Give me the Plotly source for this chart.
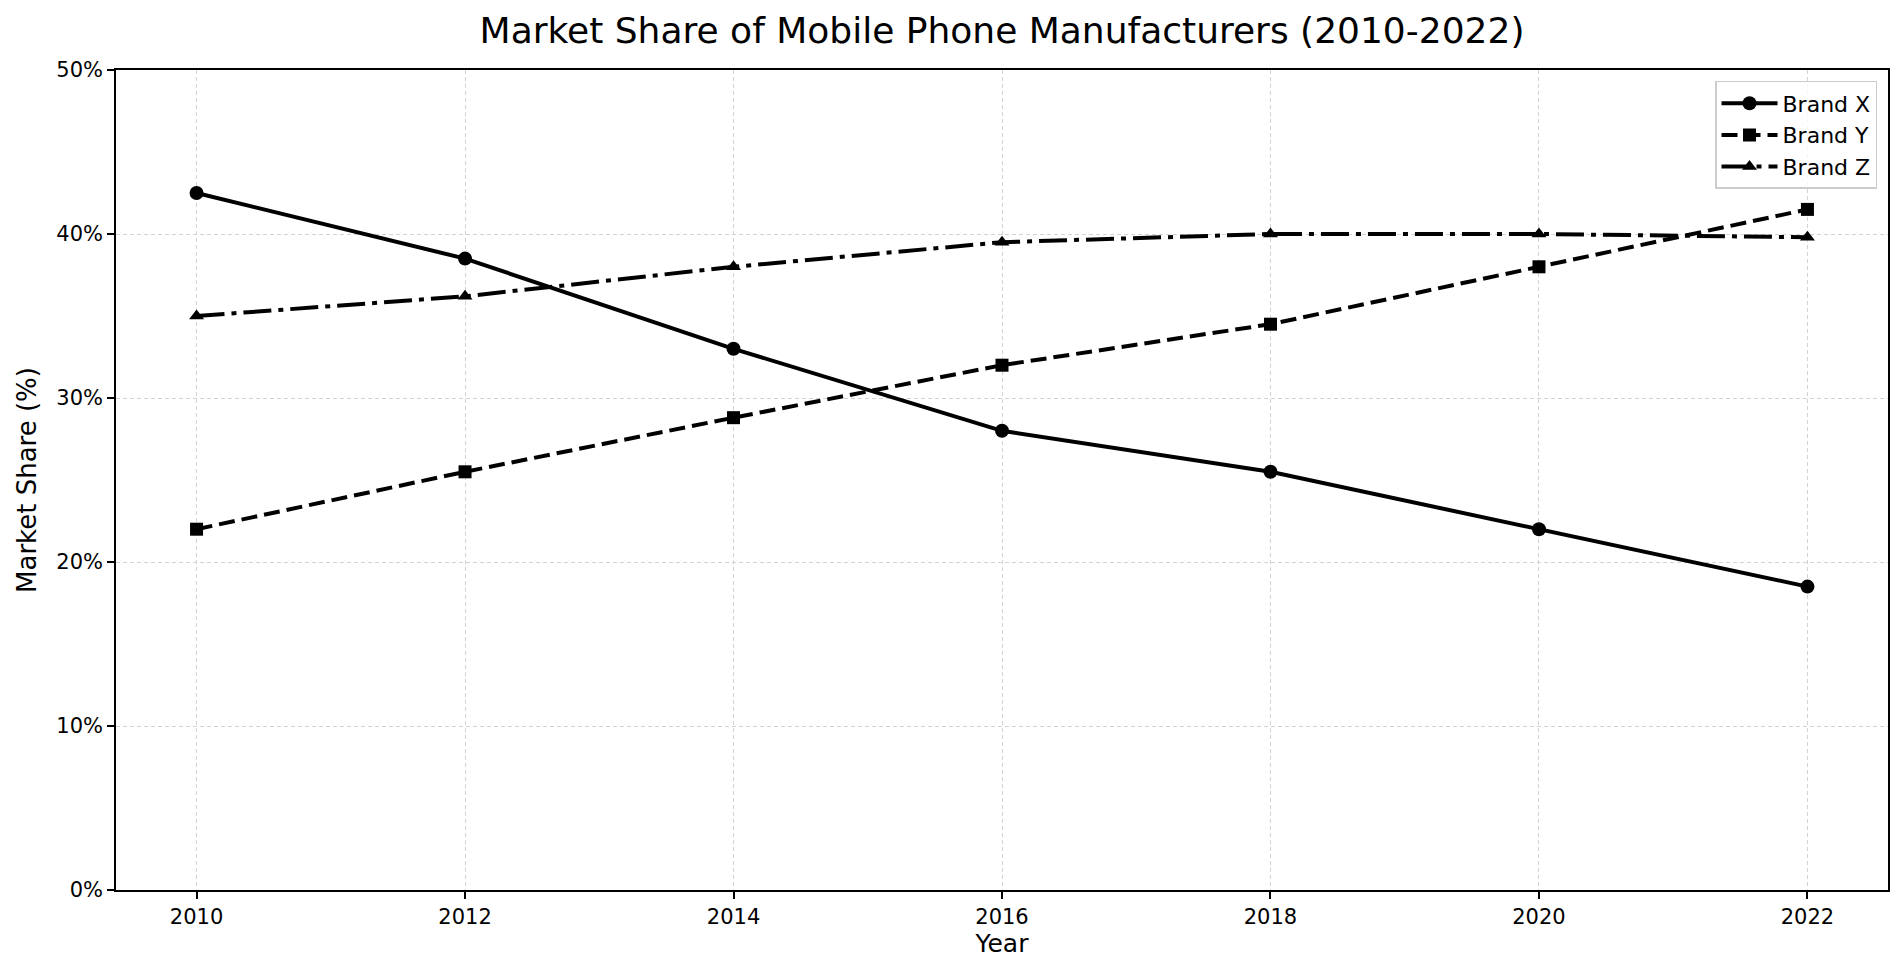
import plotly.graph_objects as go

years = [2010, 2012, 2014, 2016, 2018, 2020, 2022]
brand_x = [42.5, 38.5, 33.0, 28.0, 25.5, 22.0, 18.5]
brand_y = [22.0, 25.5, 28.8, 32.0, 34.5, 38.0, 41.5]
brand_z = [35.0, 36.2, 38.0, 39.5, 40.0, 40.0, 39.8]
y_ticks = [0, 10, 20, 30, 40, 50]
y_labels = ['0%', '10%', '20%', '30%', '40%', '50%']

fig = go.Figure()

fig.add_trace(go.Scatter(x=years, y=brand_x, name='Brand X', mode='lines+markers',
                         line=dict(color='black', width=4),
                         marker=dict(symbol='circle', size=14, color='black')))
fig.add_trace(go.Scatter(x=years, y=brand_y, name='Brand Y', mode='lines+markers',
                         line=dict(color='black', width=4, dash='16px,7px'),
                         marker=dict(symbol='square', size=13, color='black')))
fig.add_trace(go.Scatter(x=years, y=brand_z, name='Brand Z', mode='lines+markers',
                         line=dict(color='black', width=4, dash='28px,7px,5px,7px'),
                         marker=dict(symbol='triangle-up', size=13, color='black')))

axis_common = dict(showline=True, linecolor='black', linewidth=1.6, mirror=True,
                   ticks='outside', ticklen=7, tickwidth=1.6, tickcolor='black',
                   showgrid=True, gridcolor='#d3d3d3', griddash='4px,3px', gridwidth=1,
                   zeroline=False, tickfont=dict(family='DejaVu Sans', size=21, color='black'))

fig.update_xaxes(range=[2009.4, 2022.6], tickvals=years,
                 title=dict(text='Year', font=dict(family='DejaVu Sans', size=25, color='black'), standoff=6),
                 **axis_common)
fig.update_yaxes(range=[0, 50], tickvals=y_ticks, ticktext=y_labels,
                 title=dict(text='Market Share (%)', font=dict(family='DejaVu Sans', size=26, color='black'), standoff=12),
                 **axis_common)

fig.update_layout(
    width=1903, height=976,
    title=dict(text='Market Share of Mobile Phone Manufacturers (2010-2022)',
               xref='paper', x=0.5, xanchor='center', yref='container', y=0.977, yanchor='middle',
               font=dict(family='DejaVu Sans', size=36, color='black')),
    font=dict(family='DejaVu Sans', color='black'),
    plot_bgcolor='white', paper_bgcolor='white',
    margin=dict(l=108, r=23, t=62, b=94),
    legend=dict(x=0.9938, y=0.9866, xanchor='right', yanchor='top',
                bgcolor='rgba(255,255,255,0.8)', bordercolor='#cccccc', borderwidth=1.5,
                font=dict(family='DejaVu Sans', size=22, color='black'),
                itemwidth=56),
    showlegend=True,
)

fig.write_html('out.html')
